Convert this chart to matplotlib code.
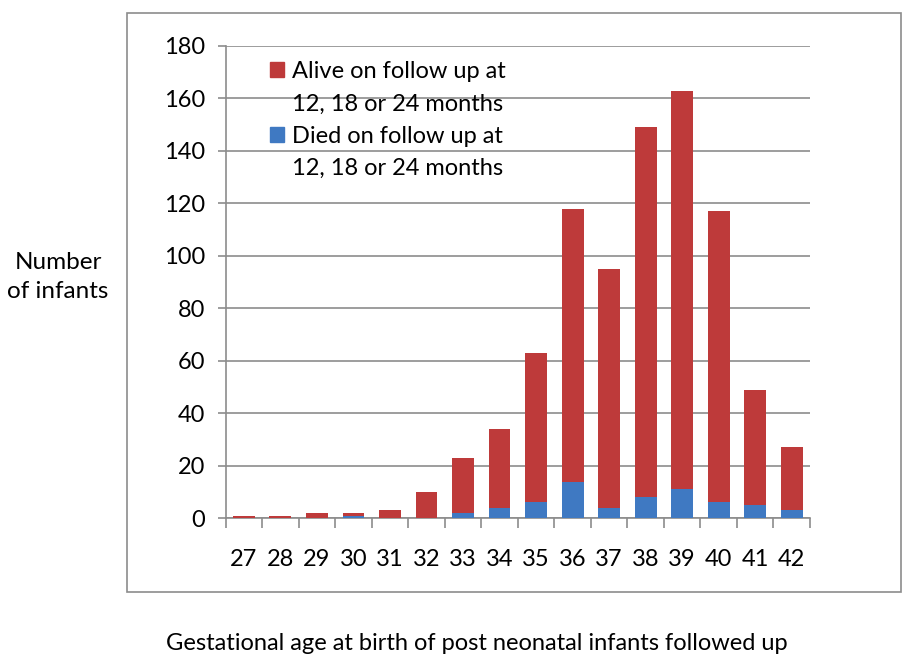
import numpy as np
import matplotlib.pyplot as plt
from matplotlib.patches import Rectangle, Patch

weeks = ['27', '28', '29', '30', '31', '32', '33', '34', '35', '36', '37', '38', '39', '40', '41', '42']
total = [1, 1, 2, 2, 3, 10, 23, 34, 63, 118, 95, 149, 163, 117, 49, 27]
died = [0, 0, 0, 1, 0, 0, 2, 4, 6, 14, 4, 8, 11, 6, 5, 3]
alive = [t - d for t, d in zip(total, died)]

plt.rcParams['font.family'] = ['Lato', 'DejaVu Sans']
red = '#BE3A3A'
blue = '#3F79C2'

fig = plt.figure(figsize=(9.1, 6.56), dpi=100)
ax = fig.add_axes([0.248, 0.210, 0.642, 0.720])

x = np.arange(len(weeks))
ax.bar(x, died, width=0.6, color=blue, zorder=3)
ax.bar(x, alive, width=0.6, bottom=died, color=red, zorder=3)

ax.set_xlim(-0.5, len(weeks) - 0.5)
ax.set_ylim(0, 180)
ax.set_yticks(range(0, 181, 20))
ax.yaxis.grid(True, color='#8c8c8c', linewidth=1.2, zorder=0)
ax.set_xticks(x)
ax.set_xticklabels(weeks)
ax.set_xticks(np.arange(-0.5, len(weeks), 1), minor=True)
ax.tick_params(axis='x', which='major', length=0, pad=22, labelsize=17)
ax.tick_params(axis='x', which='minor', length=7, color='#8c8c8c', width=1.2)
ax.tick_params(axis='y', length=6, color='#8c8c8c', width=1.2, pad=9, labelsize=17)
for s in ['top', 'right']:
    ax.spines[s].set_visible(False)
for s in ['left', 'bottom']:
    ax.spines[s].set_color('#8c8c8c')
    ax.spines[s].set_linewidth(1.2)

# legend: each label on two lines, square next to the first line
blank = Patch(facecolor='none', edgecolor='none')
handles = [Patch(color=red), blank, Patch(color=blue), blank]
labels = ['Alive on follow up at', '12, 18 or 24 months',
          'Died on follow up at', '12, 18 or 24 months']
ax.legend(handles, labels, loc='upper left', bbox_to_anchor=(0.055, 0.993), frameon=False,
          fontsize=17, handlelength=0.6, handleheight=0.6, handletextpad=0.35,
          labelspacing=0.48, borderpad=0)

# outer chart box
fig.patches.append(Rectangle((127 / 910, (656 - 592) / 656), 0.99 - 127 / 910, (592 - 13) / 656,
                             transform=fig.transFigure, fill=False, edgecolor='#8c8c8c', linewidth=1.2))

fig.text(58 / 910, 1 - 277 / 656, 'Number\nof infants', ha='center', va='center', fontsize=17.5,
         linespacing=1.45)
fig.text(477 / 910, 1 - 643 / 656, 'Gestational age at birth of post neonatal infants followed up',
         ha='center', va='center', fontsize=17)

plt.savefig('out.png', dpi=100)
